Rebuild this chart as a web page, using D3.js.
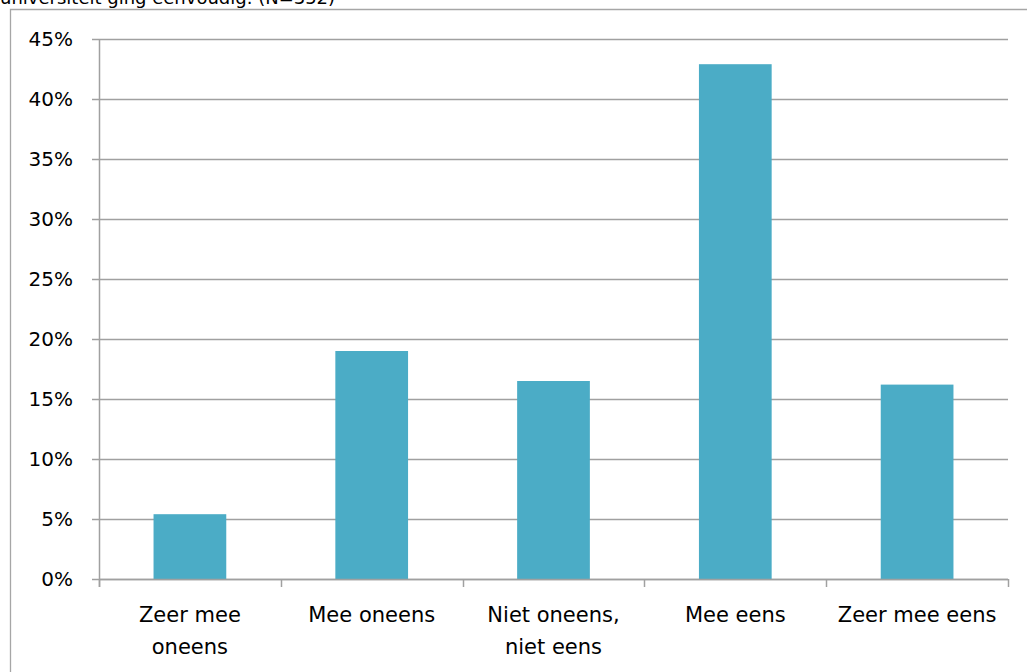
<!DOCTYPE html>
<html>
<head>
<meta charset="utf-8">
<script src="https://cdn.jsdelivr.net/npm/d3@7"></script>
<style>
  body { margin: 0; background: #fff; }
  svg { display: block; }
</style>
</head>
<body>
<div id="chart"></div>
<script>
const categories = [["Zeer mee", "oneens"], ["Mee oneens"], ["Niet oneens,", "niet eens"], ["Mee eens"], ["Zeer mee eens"]]
const values = [5.4, 19.0, 16.5, 42.9, 16.2]
const yTicks = [0, 5, 10, 15, 20, 25, 30, 35, 40, 45]
const title = "universiteit ging eenvoudig. (N=352)"

const width = 1027
const height = 672
const margin = {top: 39, right: 19, bottom: 93, left: 99}
const font = "'DejaVu Sans', sans-serif"

const svg = d3.select("#chart").append("svg")
    .attr("width", width)
    .attr("height", height)

// outer chart frame (partly cut off by the picture)
svg.append("path")
    .attr("d", `M10.5,${height + 2} V9.5 H${width + 2}`)
    .attr("fill", "none")
    .attr("stroke", "#a6a6a6")
    .attr("stroke-width", 1.3)

// title, mostly cut off at top
svg.append("text")
    .attr("x", 0)
    .attr("y", 4)
    .attr("font-family", font)
    .attr("font-size", 18)
    .attr("fill", "#000")
    .text(title)

const x = d3.scaleBand()
    .domain(d3.range(categories.length))
    .range([margin.left, width - margin.right])
    .paddingInner(0.6)
    .paddingOuter(0.3)

const xb = d3.scaleBand()
    .domain(d3.range(categories.length))
    .range([margin.left, width - margin.right])

const y = d3.scaleLinear()
    .domain([0, 45])
    .range([height - margin.bottom, margin.top])

// gridlines
svg.append("g")
    .selectAll("line")
    .data(yTicks)
    .join("line")
    .attr("x1", margin.left - 7)
    .attr("x2", width - margin.right)
    .attr("y1", d => Math.round(y(d)) + 0.5)
    .attr("y2", d => Math.round(y(d)) + 0.5)
    .attr("stroke", "#a0a0a0")
    .attr("stroke-width", 1.5)

// y labels
svg.append("g")
    .attr("font-family", font)
    .attr("font-size", 20)
    .attr("text-anchor", "end")
    .selectAll("text")
    .data(yTicks)
    .join("text")
    .attr("x", margin.left - 26)
    .attr("y", d => y(d) + 7)
    .text(d => d + "%")

// bars
svg.append("g")
    .selectAll("rect")
    .data(values)
    .join("rect")
    .attr("x", (d, i) => x(i))
    .attr("width", x.bandwidth())
    .attr("y", d => y(d))
    .attr("height", d => y(0) - y(d))
    .attr("fill", "#4bacc6")

// y axis line and x axis with ticks
svg.append("line")
    .attr("x1", margin.left + 0.5).attr("x2", margin.left + 0.5)
    .attr("y1", margin.top).attr("y2", height - margin.bottom + 8)
    .attr("stroke", "#a0a0a0").attr("stroke-width", 1.5)

svg.append("line")
    .attr("x1", margin.left).attr("x2", width - margin.right)
    .attr("y1", y(0) + 0.5).attr("y2", y(0) + 0.5)
    .attr("stroke", "#a0a0a0").attr("stroke-width", 1.5)

const bounds = d3.range(categories.length + 1).map(i => i < categories.length ? xb(i) : xb(i - 1) + xb.bandwidth())
svg.append("g")
    .selectAll("line")
    .data(bounds)
    .join("line")
    .attr("x1", d => Math.round(d) + 0.5)
    .attr("x2", d => Math.round(d) + 0.5)
    .attr("y1", y(0))
    .attr("y2", y(0) + 8)
    .attr("stroke", "#a0a0a0")
    .attr("stroke-width", 1.5)

// x labels
svg.append("g")
    .attr("font-family", font)
    .attr("font-size", 21)
    .attr("text-anchor", "middle")
    .selectAll("text")
    .data(categories)
    .join("text")
    .attr("x", (d, i) => xb(i) + xb.bandwidth() / 2)
    .attr("y", 622)
    .selectAll("tspan")
    .data(d => d)
    .join("tspan")
    .attr("x", function () { return this.parentNode.getAttribute("x") })
    .attr("dy", (_, i) => i ? 32 : 0)
    .text(d => d)
</script>
</body>
</html>
